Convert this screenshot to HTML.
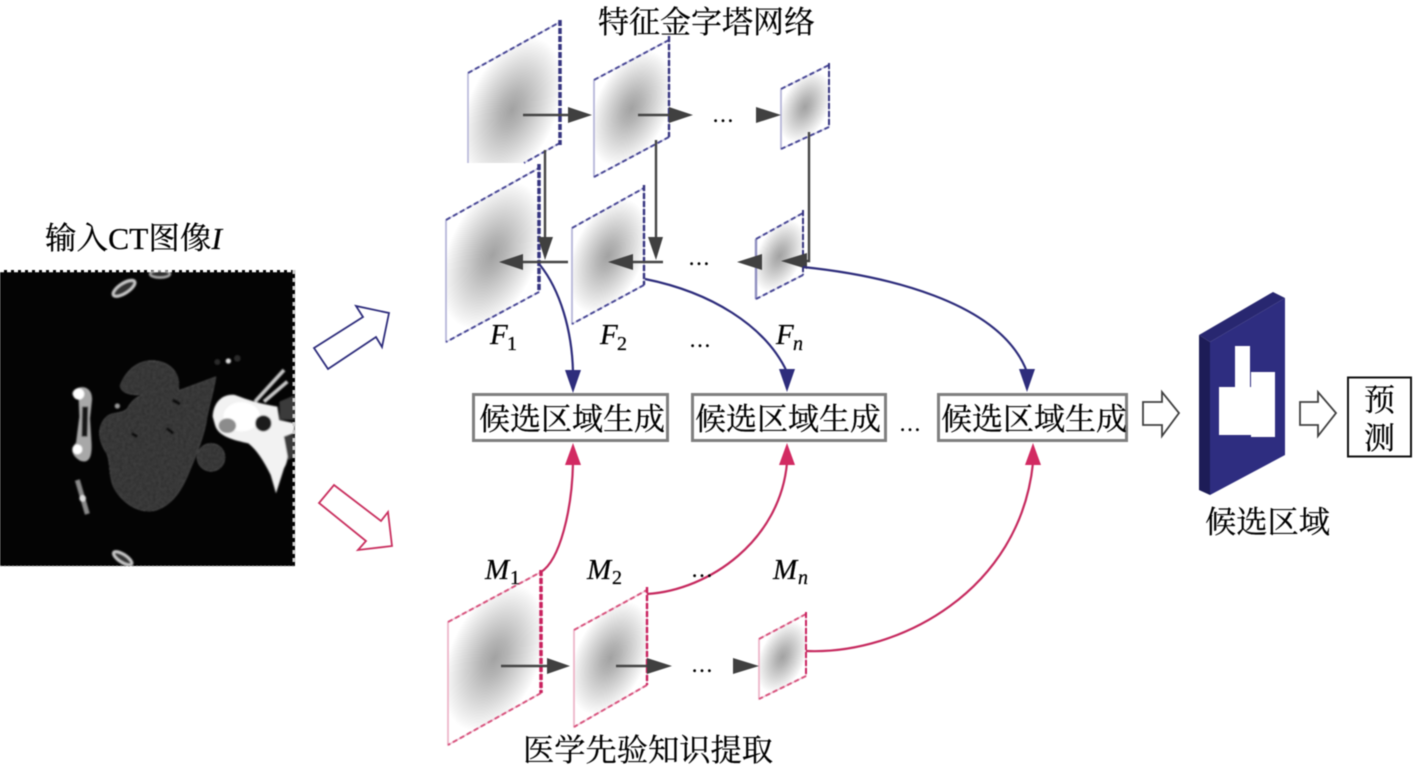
<!DOCTYPE html>
<html><head><meta charset="utf-8">
<style>
html,body{margin:0;padding:0;background:#fff;width:1416px;height:769px;overflow:hidden}
svg{display:block;filter:blur(.4px)}
text{font-family:"Liberation Serif","Noto Serif CJK SC",serif;fill:#000;stroke:#000;stroke-width:.25}
.cn{font-size:31px}
.it{font-style:italic;font-size:29px}
.sub{font-size:20px}
.subi{font-size:20px;font-style:italic}
.dots{font-size:22px}
.bp{stroke:#c9c9e4;stroke-width:1.500}
.pp{stroke:#f0c0d2;stroke-width:1.500}
.blueE{fill:none;stroke:#4a4996;stroke-width:2;stroke-dasharray:5 3}
.blueR{fill:none;stroke:#35347f;stroke-width:2.4;stroke-dasharray:6 2}
.blueL{fill:none;stroke:#b5b5d8;stroke-width:1.6}
.pinkE{fill:none;stroke:#d8557f;stroke-width:2;stroke-dasharray:5 3}
.pinkR{fill:none;stroke:#c9215e;stroke-width:2.4;stroke-dasharray:6 2}
.pinkL{fill:none;stroke:#eeb4c8;stroke-width:1.6}
.ln{fill:none;stroke:#444;stroke-width:2.4}
.hd{fill:#404040}
.nv{fill:none;stroke:#2e2d7c;stroke-width:2.2}
.pk{fill:none;stroke:#c62a5f;stroke-width:2.2}
.box{fill:#fff;stroke:#7f7f7f;stroke-width:3}
</style></head>
<body>
<svg width="1416" height="769" viewBox="0 0 1416 769" xmlns="http://www.w3.org/2000/svg">
<defs>
<radialGradient id="s"><stop offset="0" stop-color="#a2a2a2"/><stop offset=".25" stop-color="#b4b4b4"/><stop offset=".6" stop-color="#d6d6d6"/><stop offset=".9" stop-color="#f4f4f4"/><stop offset="1" stop-color="#fff"/></radialGradient>
<radialGradient id="pA1" href="#s" gradientUnits="userSpaceOnUse" cx="0" cy="0" r="1.1" gradientTransform="matrix(46 -25.5 0 60.500 512 110)"/>
<radialGradient id="pA2" href="#s" gradientUnits="userSpaceOnUse" cx="0" cy="0" r="1.1" gradientTransform="matrix(37.500 -20 0 48.500 631.500 108.500)"/>
<radialGradient id="pA3" href="#s" gradientUnits="userSpaceOnUse" cx="0" cy="0" r="1.1" gradientTransform="matrix(24 -12 0 30 805 107)"/>
<radialGradient id="pF1" href="#s" gradientUnits="userSpaceOnUse" cx="0" cy="0" r="1.1" gradientTransform="matrix(46.500 -26 0 61.500 492.500 255)"/>
<radialGradient id="pF2" href="#s" gradientUnits="userSpaceOnUse" cx="0" cy="0" r="1.1" gradientTransform="matrix(36 -20 0 48 608 256)"/>
<radialGradient id="pF3" href="#s" gradientUnits="userSpaceOnUse" cx="0" cy="0" r="1.1" gradientTransform="matrix(23.500 -13 0 30 779.500 256)"/>
<radialGradient id="pM1" href="#s" gradientUnits="userSpaceOnUse" cx="0" cy="0" r="1.1" gradientTransform="matrix(46.500 -25 0 61.500 494.500 658)"/>
<radialGradient id="pM2" href="#s" gradientUnits="userSpaceOnUse" cx="0" cy="0" r="1.1" gradientTransform="matrix(36.500 -20 0 47.500 610.500 658)"/>
<radialGradient id="pM3" href="#s" gradientUnits="userSpaceOnUse" cx="0" cy="0" r="1.1" gradientTransform="matrix(23.500 -12.500 0 30 782.500 657)"/>
<filter id="noise" x="0" y="0" width="100%" height="100%">
<feTurbulence type="fractalNoise" baseFrequency="0.12" numOctaves="2" seed="4" result="n"/>
<feColorMatrix in="n" type="matrix" values="0 0 0 .7 .35  0 0 0 .7 .35  0 0 0 .7 .35  0 0 0 0 1" result="m"/>
<feComposite in="m" in2="SourceAlpha" operator="in" result="c"/>
<feBlend in="SourceGraphic" in2="c" mode="multiply"/>
</filter>
<filter id="ct" x="-5%" y="-5%" width="110%" height="110%"><feGaussianBlur stdDeviation="2.400"/></filter>
</defs>

<!-- CT image -->
<rect x="0" y="270" width="295" height="296" fill="#040404"/>
<g transform="translate(0,260) scale(.33333)">
<g filter="url(#ct)">
<g filter="url(#noise)" fill="#424242">
<path d="M360 378 C375 335 410 302 455 302 C510 302 545 340 535 392 L648 350 C640 400 625 445 618 490 C610 530 595 570 572 625 C550 680 525 730 470 750 C420 765 365 730 340 680 C325 640 332 610 320 580 C292 540 290 495 322 468 C340 455 365 462 382 445 C392 425 408 412 425 405 C390 405 365 400 360 378Z"/>
<circle cx="633" cy="592" r="42"/>
</g>
<path d="M395 520 L412 530 M500 505 L520 520 M518 420 L540 432" stroke="#0a0a0a" stroke-width="9" fill="none"/>
<path fill="#f2f2f2" d="M638 470 C640 425 670 400 705 405 C745 420 775 430 832 440 L838 480 L885 490 L882 520 L852 530 C868 560 868 600 852 625 L828 700 L812 645 C790 600 770 570 745 550 C700 540 655 530 645 495Z"/>
<ellipse cx="725" cy="470" rx="55" ry="44" fill="#fff"/>
<ellipse cx="682" cy="497" rx="26" ry="22" fill="#8c8c8c"/>
<circle cx="790" cy="490" r="24" fill="#1c1c1c"/>
<path d="M838 425 L885 405 L885 480 L840 478Z M852 530 L885 525 L885 590 L865 600Z" fill="#3a3a3a"/>
<path d="M765 425 L852 330 M792 425 L862 365" stroke="#c8c8c8" stroke-width="11" fill="none"/>
<path d="M225 388 C250 372 278 385 276 420 L270 475 L274 540 C278 590 268 612 240 602 C212 585 212 565 228 548 L238 470 L236 420 C215 410 212 398 225 388Z" fill="#a8a8a8"/>
<path d="M247 440 L245 530 L262 530 L264 440Z" fill="#161616"/>
<circle cx="236" cy="402" r="17" fill="#fff"/>
<circle cx="232" cy="568" r="15" fill="#fff"/>
<path d="M232 660 L262 762" stroke="#8a8a8a" stroke-width="15" fill="none"/>
<circle cx="248" cy="715" r="10" fill="#ddd"/>
<ellipse cx="372" cy="85" rx="38" ry="15" transform="rotate(-33 372 85)" fill="#333" stroke="#c8c8c8" stroke-width="9"/>
<ellipse cx="480" cy="42" rx="30" ry="11" fill="#333" stroke="#aaa" stroke-width="7"/>
<ellipse cx="368" cy="895" rx="32" ry="12" transform="rotate(33 368 895)" fill="#333" stroke="#c8c8c8" stroke-width="9"/>
<circle cx="352" cy="438" r="8" fill="#999"/>
<circle cx="685" cy="303" r="8" fill="#ddd"/>
<circle cx="652" cy="306" r="9" fill="#2a2a2a"/><circle cx="712" cy="295" r="10" fill="#2a2a2a"/>
</g>
</g>
<rect x="0" y="264" width="300" height="6" fill="#fff"/>
<rect x="0" y="566" width="300" height="10" fill="#fff"/>
<rect x="295" y="264" width="6" height="310" fill="#fff"/>
<path d="M0 271 H295" stroke="#fff" stroke-width="2.4" stroke-dasharray="4 3" fill="none"/>
<path d="M294 270 V566" stroke="#ccc" stroke-width="3" stroke-dasharray="4 4" fill="none"/>
<path d="M0 566 H295" stroke="#999" stroke-width="1" stroke-dasharray="2 2" fill="none"/>

<text class="cn" x="45" y="249" textLength="177" lengthAdjust="spacingAndGlyphs">输入CT图像<tspan font-style="italic">I</tspan></text>

<!-- hollow arrows -->
<polygon points="314,348 363,317 356,306 389,313 382,347 376,337 328,369" fill="#fff" stroke="#2e2d7c" stroke-width="1.800"/>
<polygon points="334,485 381,521 388,512 392,546 358,550 366,541 319,503" fill="#fff" stroke="#c9305f" stroke-width="1.800"/>

<!-- Top row panels -->
<polygon points="468,73 560,22 560,143 524,163 468,163" fill="url(#pA1)"/>
<path class="blueL" d="M468 73V163"/><path class="bp" fill="none" d="M468 73L560 22M560 143L524 163"/><path class="blueE" d="M468 73L560 22M560 143L524 163"/><path class="blueR" d="M560 20V145" style="stroke-width:3.5"/>
<polygon class="bp" points="594,80 669,40 669,137 594,177" fill="url(#pA2)"/>
<path class="blueL" d="M594 80V177"/><path class="blueE" d="M594 80L669 40M669 137L594 177"/><path class="blueR" d="M669 36V137"/>
<polygon class="bp" points="781,89 829,65 829,127 781,149" fill="url(#pA3)"/>
<path class="blueL" d="M781 89V149"/><path class="blueE" d="M781 89L829 65M829 127L781 149"/><path class="blueR" d="M829 63V127" style="stroke-width:2"/>

<!-- Second row panels -->
<polygon class="bp" points="446,220 539,168 539,292 446,342" fill="url(#pF1)"/>
<path class="blueL" d="M446 220V342"/><path class="blueE" d="M446 220L539 168M539 292L446 342"/><path class="blueR" d="M539 164V292" style="stroke-width:3.5"/>
<polygon class="bp" points="572,228 644,188 644,285 572,324" fill="url(#pF2)"/>
<path class="blueL" d="M572 228V324"/><path class="blueE" d="M572 228L644 188M644 285L572 324"/><path class="blueR" d="M644 185V285"/>
<polygon class="bp" points="756,239 803,213 803,275 756,299" fill="url(#pF3)"/>
<path class="blueL" d="M756 239V299" style="stroke:#8f8fc0;stroke-width:2.4"/><path class="blueE" d="M756 239L803 213M803 275L756 299"/><path class="blueR" d="M803 210V275" style="stroke-width:2"/>

<!-- Bottom row panels -->
<polygon class="pp" points="448,622 541,572 541,693 448,745" fill="url(#pM1)"/>
<path class="pinkL" d="M448 622V745"/><path class="pinkE" d="M448 622L541 572M541 693L448 745"/><path class="pinkR" d="M541 570V693" style="stroke-width:3.5"/>
<polygon class="pp" points="574,630 647,590 647,685 574,727" fill="url(#pM2)"/>
<path class="pinkL" d="M574 630V727"/><path class="pinkE" d="M574 630L647 590M647 685L574 727"/><path class="pinkR" d="M647 587V685"/>
<polygon class="pp" points="759,639 806,614 806,676 759,699" fill="url(#pM3)"/>
<path class="pinkL" d="M759 639V699"/><path class="pinkE" d="M759 639L806 614M806 676L759 699"/><path class="pinkR" d="M806 612V676" style="stroke-width:2"/>

<!-- Dark arrows -->
<path class="ln" d="M523 115H570M638 115H671M545 150V240M656 140V240M809 132V261H793M568 262H520M663 262H630M501 666H549M616 666H649"/>
<g class="hd">
<polygon points="568,107 592,115 568,123"/>
<polygon points="669,107 693,115 669,123"/>
<polygon points="756,107 781,115 756,123"/>
<polygon points="538,237 553,237 545,260"/>
<polygon points="648,237 663,237 656,260"/>
<polygon points="807,253 781,261 807,269"/>
<polygon points="523,254 499,262 523,270"/>
<polygon points="633,254 608,262 633,270"/>
<polygon points="762,254 737,262 762,270"/>
<polygon points="547,658 570,666 547,674"/>
<polygon points="647,658 672,666 647,674"/>
<polygon points="733,658 759,666 733,674"/>
</g>

<!-- Boxes -->
<rect class="box" x="473.500" y="394.500" width="194" height="46"/>
<rect class="box" x="692.500" y="394.500" width="193" height="46"/>
<rect class="box" x="938.500" y="394.500" width="188" height="46"/>
<text class="cn" x="479" y="430" textLength="186" lengthAdjust="spacingAndGlyphs">候选区域生成</text>
<text class="cn" x="695" y="430" textLength="186" lengthAdjust="spacingAndGlyphs">候选区域生成</text>
<text class="cn" x="941" y="430" textLength="186" lengthAdjust="spacingAndGlyphs">候选区域生成</text>

<!-- Curved connectors -->
<path class="nv" d="M540 265C560 290 572 330 573 372"/>
<path class="nv" d="M645 279C710 292 765 325 787 372"/>
<path class="nv" d="M803 267C880 275 1000 300 1027 372"/>
<polygon points="565,370 581,370 573,393" fill="#2e2d7c"/>
<polygon points="779,369 795,369 787,392" fill="#2e2d7c"/>
<polygon points="1019,369 1035,369 1027,392" fill="#2e2d7c"/>
<path class="pk" d="M541 572C560 560 572 510 573 463"/>
<path class="pk" d="M647 594C710 590 780 540 787 463"/>
<path class="pk" d="M806 651C900 655 1020 590 1033 463"/>
<polygon points="565,465 581,465 573,443" fill="#d22a62"/>
<polygon points="779,465 795,465 787,443" fill="#d22a62"/>
<polygon points="1025,465 1041,465 1033,443" fill="#d22a62"/>

<!-- Labels -->
<text class="cn" x="598" y="33" textLength="217" lengthAdjust="spacingAndGlyphs">特征金字塔网络</text>
<text class="cn" x="523" y="761" textLength="250" lengthAdjust="spacingAndGlyphs">医学先验知识提取</text>
<text class="cn" x="1205" y="533" textLength="125" lengthAdjust="spacingAndGlyphs">候选区域</text>

<text class="it" x="490" y="344">F</text><text class="sub" x="507" y="350">1</text>
<text class="it" x="600" y="344">F</text><text class="sub" x="617" y="350">2</text>
<text class="it" x="776" y="344">F</text><text class="subi" x="793" y="350">n</text>
<text class="it" x="485" y="579">M</text><text class="sub" x="510" y="584">1</text>
<text class="it" x="587" y="579">M</text><text class="sub" x="612" y="584">2</text>
<text class="it" x="773" y="579">M</text><text class="subi" x="798" y="584">n</text>

<text class="dots" x="712" y="122">…</text>
<text class="dots" x="688" y="265">…</text>
<text class="dots" x="689" y="347">…</text>
<text class="dots" x="691" y="577">…</text>
<text class="dots" x="691" y="672">…</text>
<text class="dots" x="899" y="431">…</text>

<!-- Right side -->
<polygon points="1143,402 1162,402 1162,392 1179,413 1162,436 1162,425 1143,425" fill="#fff" stroke="#404040" stroke-width="1.800"/>
<polygon points="1300,402 1318,402 1318,392 1336,413 1318,436 1318,425 1300,425" fill="#fff" stroke="#404040" stroke-width="1.800"/>
<polygon points="1199,335 1273,292 1285,298 1210,342" fill="#282770"/>
<polygon points="1199,335 1210,342 1210,495 1199,490" fill="#1d1c57"/>
<polygon points="1210,342 1285,298 1285,455 1210,495" fill="#2e2d80"/>
<path d="M1235 346H1250V387H1251V372H1275V437H1251V435H1219V387H1235Z" fill="#fff"/>
<rect x="1348" y="377.500" width="63" height="79" fill="#fff" stroke="#111" stroke-width="2"/>
<text class="cn" x="1364" y="411">预</text>
<text class="cn" x="1364" y="449">测</text>
</svg>
</body></html>
